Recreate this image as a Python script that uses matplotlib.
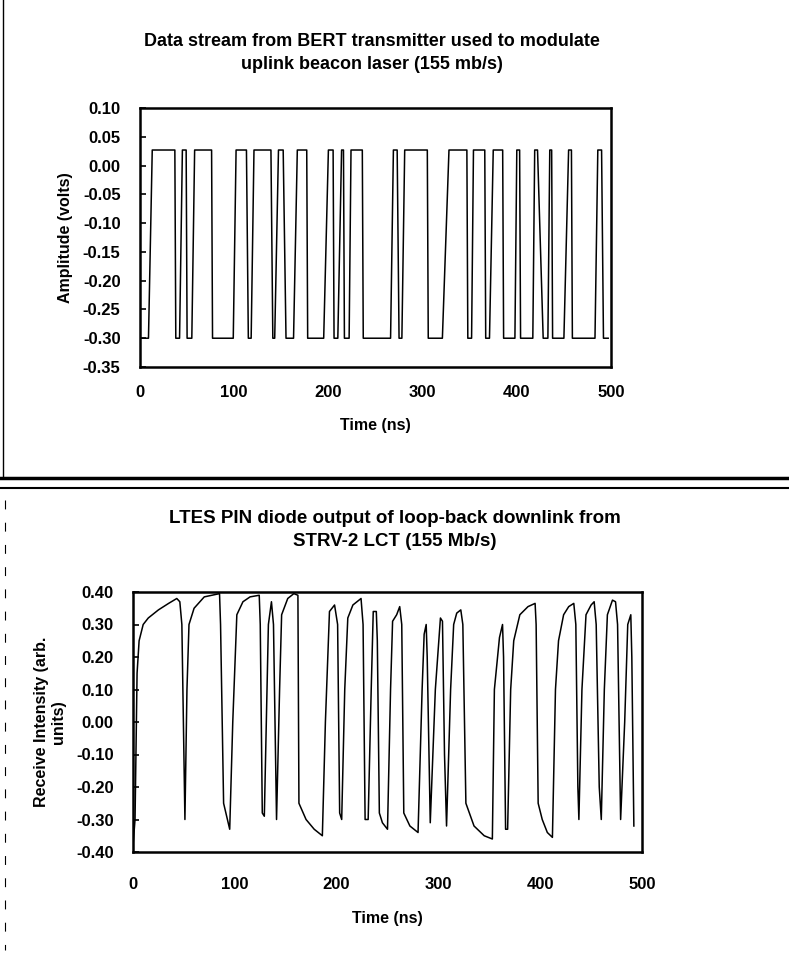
import matplotlib
matplotlib.use("Agg")
import matplotlib.pyplot as plt
from matplotlib.lines import Line2D

plt.rcParams['font.family'] = ['Liberation Sans', 'DejaVu Sans']
plt.rcParams['font.weight'] = 'bold'

# Top panel: BERT data stream, waveform vertices (time ns, volts)
bert_t = [0, 9, 13, 37, 38, 42, 45, 49, 50, 55, 58, 76, 77, 99, 102, 113,
          115, 118, 121, 139, 141, 143, 147, 152, 155, 163, 167, 177, 178,
          195, 200, 205, 206, 210, 214, 216, 217, 222, 224, 236, 237, 266,
          269, 273, 275, 278, 281, 305, 306, 321, 328, 347, 348, 352, 354,
          366, 367, 371, 375, 385, 386, 398, 400, 403, 404, 417, 419, 422,
          428, 433, 435, 437, 438, 450, 455, 458, 459, 483, 486, 490, 492,
          497]
bert_v = [-0.300, -0.300, 0.027, 0.027, -0.300, -0.300, 0.027, 0.027,
          -0.300, -0.300, 0.027, 0.027, -0.300, -0.300, 0.027, 0.027,
          -0.300, -0.300, 0.027, 0.027, -0.300, -0.300, 0.027, 0.027,
          -0.300, -0.300, 0.027, 0.027, -0.300, -0.300, 0.027, 0.027,
          -0.300, -0.300, 0.027, 0.027, -0.300, -0.300, 0.027, 0.027,
          -0.300, -0.300, 0.027, 0.027, -0.300, -0.300, 0.027, 0.027,
          -0.300, -0.300, 0.027, 0.027, -0.300, -0.300, 0.027, 0.027,
          -0.300, -0.300, 0.027, 0.027, -0.300, -0.300, 0.027, 0.027,
          -0.300, -0.300, 0.027, 0.027, -0.300, -0.300, 0.027, 0.027,
          -0.300, -0.300, 0.027, 0.027, -0.300, -0.300, 0.027, 0.027,
          -0.300, -0.300]

# Bottom panel: PIN diode output, waveform vertices (time ns, arb. units)
pin_t = [0, 2, 4, 6, 10, 15, 25, 35, 43, 46, 48, 51, 53, 55, 60, 70, 85,
         86, 89, 95, 98, 102, 108, 115, 124, 125, 127, 129, 133, 136, 138,
         141, 144, 146, 152, 158, 162, 163, 170, 178, 186, 189, 193, 198,
         201, 203, 205, 208, 211, 216, 224, 226, 228, 231, 234, 236, 239,
         240, 242, 245, 250, 253, 255, 259, 262, 264, 266, 272, 280, 284,
         286, 288, 289, 292, 297, 302, 304, 306, 308, 312, 315, 318, 322,
         324, 327, 335, 345, 353, 355, 360, 363, 364, 366, 368, 371, 374,
         380, 388, 395, 396, 398, 402, 407, 412, 415, 418, 423, 428, 433,
         435, 437, 438, 441, 445, 450, 453, 455, 458, 460, 463, 466, 471,
         474, 476, 479, 483, 486, 489, 490, 492]
pin_v = [-0.38, -0.30, 0.15, 0.25, 0.30, 0.32, 0.345, 0.365, 0.38, 0.37,
         0.30, -0.30, 0.10, 0.30, 0.35, 0.385, 0.395,
         0.30, -0.25, -0.33, 0.00, 0.33, 0.37, 0.385, 0.39, 0.30, -0.28,
         -0.29, 0.30, 0.37, 0.30,
         -0.30, 0.10, 0.33, 0.38, 0.395, 0.39, -0.25, -0.30, -0.33, -0.35,
         0.00, 0.34, 0.36,
         0.30, -0.28, -0.30, 0.10, 0.32, 0.36, 0.38, 0.30, -0.30, -0.30,
         0.10, 0.34, 0.34,
         0.25, -0.28, -0.31, -0.33, 0.10, 0.31, 0.33, 0.355, 0.30, -0.28,
         -0.32, -0.34, 0.10,
         0.27, 0.30, 0.20, -0.31, 0.10, 0.32, 0.31, -0.10, -0.32, 0.10,
         0.30, 0.335, 0.345,
         0.30, -0.25, -0.32, -0.35, -0.36, 0.10, 0.26, 0.30, 0.20, -0.33,
         -0.33, 0.10, 0.25,
         0.33, 0.355, 0.365, 0.30, -0.25, -0.30, -0.34, -0.355, 0.10, 0.25,
         0.33, 0.355, 0.365,
         0.30, -0.20, -0.30, 0.10, 0.33, 0.36, 0.37, 0.30, -0.20, -0.30,
         0.10, 0.33, 0.375,
         0.37, 0.30, -0.30, 0.00, 0.30, 0.33, 0.20, -0.32]

top_yticks = [0.10, 0.05, 0.00, -0.05, -0.10, -0.15, -0.20, -0.25, -0.30, -0.35]
bot_yticks = [0.40, 0.30, 0.20, 0.10, 0.00, -0.10, -0.20, -0.30, -0.40]
x_ticks = [0, 100, 200, 300, 400, 500]

W, H = 789, 959
fig = plt.figure(figsize=(W / 100, H / 100), dpi=100)


def style_axes(ax, yticks, ylim, xpad):
    ax.set_xlim(0, 500)
    ax.set_ylim(*ylim)
    ax.set_xticks(x_ticks)
    ax.set_yticks(yticks)
    ax.set_yticklabels([f"{v:.2f}" for v in yticks])
    ax.tick_params(axis='y', direction='in', length=4, width=1.2, pad=14,
                   labelsize=12)
    ax.tick_params(axis='x', length=0, pad=xpad, labelsize=12)
    for s in ax.spines.values():
        s.set_linewidth(1.8)


ax1 = fig.add_axes([140 / W, 1 - 367 / H, 471 / W, 259 / H])
ax1.plot(bert_t, bert_v, color='black', linewidth=1.1)
style_axes(ax1, top_yticks, (-0.35, 0.10), 13)
ax1.set_xlabel("Time (ns)", fontsize=11.5, fontweight='bold', labelpad=13)
ax1.set_ylabel("Amplitude (volts)", fontsize=11.5, fontweight='bold',
               labelpad=7)
fig.text(372 / W, 1 - 53 / H,
         "Data stream from BERT transmitter used to modulate\n"
         "uplink beacon laser (155 mb/s)",
         ha='center', va='center', fontsize=13, fontweight='bold',
         linespacing=1.45)

ax2 = fig.add_axes([133 / W, 1 - 852 / H, 509 / W, 260 / H])
ax2.plot(pin_t, pin_v, color='black', linewidth=1.1)
style_axes(ax2, bot_yticks, (-0.40, 0.40), 18)
ax2.set_xlabel("Time (ns)", fontsize=11.5, fontweight='bold', labelpad=14)
ax2.set_ylabel("Receive Intensity (arb.\nunits)", fontsize=11.5,
               fontweight='bold', labelpad=7)
fig.text(395 / W, 1 - 530 / H,
         "LTES PIN diode output of loop-back downlink from\n"
         "STRV-2 LCT (155 Mb/s)",
         ha='center', va='center', fontsize=13.5, fontweight='bold',
         linespacing=1.45)

# page frame lines from the scanned layout
fig.add_artist(Line2D([0, 1], [1 - 478 / H] * 2, color='black', linewidth=2.5))
fig.add_artist(Line2D([0, 1], [1 - 488 / H] * 2, color='black', linewidth=1.5))
fig.add_artist(Line2D([3 / W] * 2, [1, 1 - 478 / H], color='black',
                      linewidth=1.0))
fig.add_artist(Line2D([5 / W] * 2, [1 - 500 / H, 1 - 950 / H], color='black',
                      linewidth=0.8, linestyle=(0, (8, 12))))

fig.savefig("out.png", dpi=100)
